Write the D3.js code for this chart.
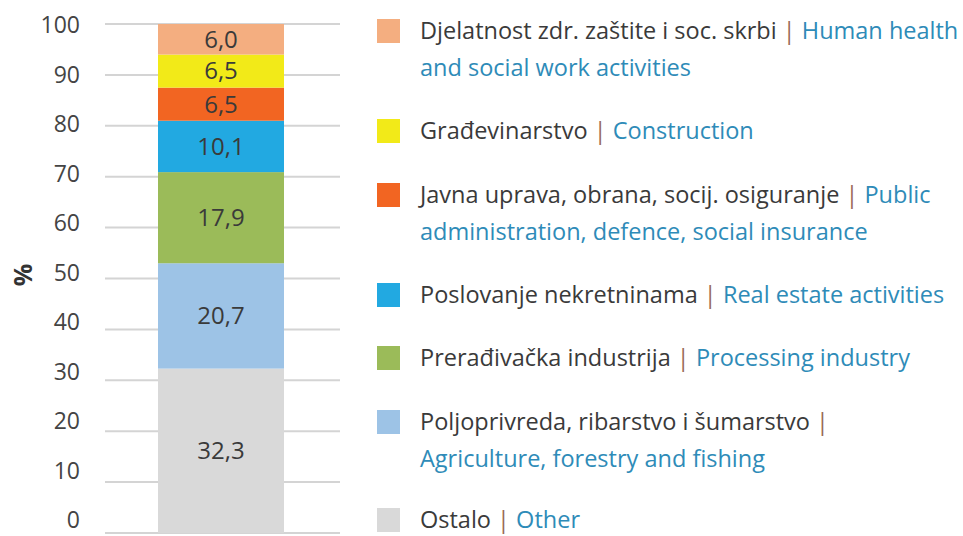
<!DOCTYPE html>
<html>
<head>
<meta charset="utf-8">
<script src="https://cdn.jsdelivr.net/npm/d3@7"></script>
<style>
  body { margin: 0; background: #fff; }
  text { font-family: "Open Sans", Lato, sans-serif; }
</style>
</head>
<body>
<svg width="963" height="536"></svg>
<script>
// bottom to top
const sectors = ['Ostalo', 'Poljoprivreda', 'Preradivacka', 'Poslovanje', 'Javna', 'Gradevinarstvo', 'Djelatnost'];
const values = [32.3, 20.7, 17.9, 10.1, 6.5, 6.5, 6.0];
const colors = ['#d9d9d9', '#9dc3e6', '#9bbb59', '#22a9e1', '#f26522', '#f2ea18', '#f4ae80'];
const labelsHr = [
  ['Ostalo'],
  ['Poljoprivreda, ribarstvo i šumarstvo'],
  ['Prerađivačka industrija'],
  ['Poslovanje nekretninama'],
  ['Javna uprava, obrana, socij. osiguranje'],
  ['Građevinarstvo'],
  ['Djelatnost zdr. zaštite i soc. skrbi']
];
const labelsEn = [
  ['Other'],
  ['', 'Agriculture, forestry and fishing'],
  ['Processing industry'],
  ['Real estate activities'],
  ['Public', 'administration, defence, social insurance'],
  ['Construction'],
  ['Human health', 'and social work activities']
];
const yTicks = [0, 10, 20, 30, 40, 50, 60, 70, 80, 90, 100];

const svg = d3.select('svg');

const y = d3.scaleLinear().domain([0, 100]).range([533, 24]);
const yLabel = d3.scaleLinear().domain([0, 100]).range([520, 25]);

// gridlines
svg.append('g').selectAll('line')
  .data(yTicks)
  .join('line')
  .attr('x1', 105).attr('x2', 340)
  .attr('y1', d => y(d)).attr('y2', d => y(d))
  .attr('stroke', '#d4d4d4')
  .attr('stroke-width', 2);

svg.append('g').selectAll('text')
  .data(yTicks)
  .join('text')
  .attr('x', 80)
  .attr('y', d => yLabel(d))
  .attr('dy', '0.35em')
  .attr('text-anchor', 'end')
  .attr('font-size', 23)
  .attr('fill', '#444')
  .text(d => d);

svg.append('text')
  .attr('transform', 'translate(23,275) rotate(-90)')
  .attr('dy', '0.35em')
  .attr('text-anchor', 'middle')
  .attr('font-size', 25)
  .attr('font-weight', 'bold')
  .attr('fill', '#333')
  .text('%');

// stacked bar
const stack = [];
let acc = 0;
values.forEach((v, i) => { stack.push({ y0: acc, y1: acc + v, v: v, i: i }); acc += v; });

const bar = svg.append('g');
bar.selectAll('rect')
  .data(stack)
  .join('rect')
  .attr('x', 158)
  .attr('width', 126)
  .attr('y', d => y(d.y1))
  .attr('height', d => y(d.y0) - y(d.y1))
  .attr('fill', d => colors[d.i]);

bar.selectAll('text')
  .data(stack)
  .join('text')
  .attr('x', 221)
  .attr('y', d => y((d.y0 + d.y1) / 2))
  .attr('dy', '0.35em')
  .attr('text-anchor', 'middle')
  .attr('font-size', 24)
  .attr('fill', '#3a3a3a')
  .text(d => d3.format('.1f')(d.v).replace('.', ','));

// legend (top to bottom)
const legendY = [31, 131, 195, 295, 358, 422, 520];
const order = d3.range(values.length).reverse();

const legend = svg.append('g');
order.forEach((idx, k) => {
  const g = legend.append('g').attr('transform', `translate(0,${legendY[k]})`);
  g.append('rect')
    .attr('x', 377).attr('y', -12)
    .attr('width', 23).attr('height', 24)
    .attr('fill', colors[idx]);

  const t = g.append('text')
    .attr('x', 420)
    .attr('dy', '0.35em')
    .attr('font-size', 23.5);
  t.append('tspan').attr('fill', '#3a3a3a').text(labelsHr[idx][0] + ' ');
  t.append('tspan').attr('fill', '#9a6a58').text('|');
  if (labelsEn[idx][0]) {
    t.append('tspan').attr('fill', '#2e8bb8').text(' ' + labelsEn[idx][0]);
  }
  if (labelsEn[idx][1]) {
    g.append('text')
      .attr('x', 420).attr('y', 37)
      .attr('dy', '0.35em')
      .attr('font-size', 23.5)
      .attr('fill', '#2e8bb8')
      .text(labelsEn[idx][1]);
  }
});
</script>
</body>
</html>
